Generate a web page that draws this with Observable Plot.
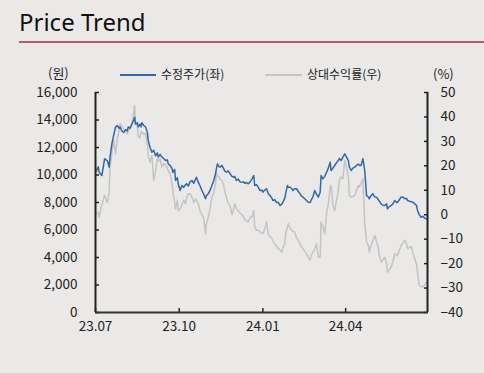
<!DOCTYPE html>
<html><head><meta charset="utf-8">
<script src="https://cdn.jsdelivr.net/npm/d3@7"></script>
<script src="https://cdn.jsdelivr.net/npm/@observablehq/plot@0.6"></script>
<style>
html,body{margin:0;padding:0;background:#eae9e7;}
#wrap{position:relative;width:484px;height:373px;overflow:hidden;font-family:"Noto Sans CJK KR","Noto Sans",sans-serif;color:#222;}
.t{position:absolute;white-space:nowrap;}
#wrap svg{position:absolute;left:0;top:0;}
</style></head><body><div id="wrap"></div>
<script>
const title = "Price Trend";
const legendPrice = "수정주가(좌)";
const legendRel = "상대수익률(우)";
const unitLeft = "(원)";
const unitRight = "(%)";

const dates = [
"2023-07-02","2023-07-04","2023-07-05","2023-07-08","2023-07-11","2023-07-14","2023-07-16","2023-07-17","2023-07-19","2023-07-21",
"2023-07-23","2023-07-25","2023-07-27","2023-07-28","2023-07-30","2023-08-01","2023-08-03","2023-08-05","2023-08-06","2023-08-08",
"2023-08-10","2023-08-12","2023-08-13","2023-08-14","2023-08-16","2023-08-17","2023-08-19","2023-08-20","2023-08-21","2023-08-23",
"2023-08-25","2023-08-27","2023-08-28","2023-08-30","2023-09-01","2023-09-03","2023-09-05","2023-09-07","2023-09-08","2023-09-10",
"2023-09-12","2023-09-14","2023-09-16","2023-09-18","2023-09-19","2023-09-21","2023-09-23","2023-09-24","2023-09-26","2023-09-27",
"2023-09-29","2023-09-30","2023-10-02","2023-10-04","2023-10-06","2023-10-08","2023-10-09","2023-10-11","2023-10-13","2023-10-15",
"2023-10-17","2023-10-19","2023-10-20","2023-10-22","2023-10-24","2023-10-26","2023-10-28","2023-10-30","2023-10-31","2023-11-02",
"2023-11-04","2023-11-06","2023-11-08","2023-11-10","2023-11-11","2023-11-12","2023-11-14","2023-11-15","2023-11-17","2023-11-19",
"2023-11-20","2023-11-22","2023-11-24","2023-11-26","2023-11-28","2023-11-30","2023-12-01","2023-12-03","2023-12-05","2023-12-07",
"2023-12-09","2023-12-11","2023-12-12","2023-12-14","2023-12-16","2023-12-18","2023-12-20","2023-12-22","2023-12-23","2023-12-25",
"2023-12-27","2023-12-29","2023-12-31","2024-01-01","2024-01-03","2024-01-05","2024-01-07","2024-01-09","2024-01-11","2024-01-12",
"2024-01-14","2024-01-16","2024-01-18","2024-01-20","2024-01-22","2024-01-23","2024-01-25","2024-01-26","2024-01-28","2024-01-29",
"2024-01-31","2024-02-02","2024-02-03","2024-02-05","2024-02-07","2024-02-09","2024-02-11","2024-02-12","2024-02-14","2024-02-16",
"2024-02-18","2024-02-20","2024-02-22","2024-02-23","2024-02-25","2024-02-27","2024-02-29","2024-03-02","2024-03-04","2024-03-05",
"2024-03-07","2024-03-09","2024-03-11","2024-03-13","2024-03-15","2024-03-16","2024-03-18","2024-03-20","2024-03-22","2024-03-24",
"2024-03-25","2024-03-27","2024-03-29","2024-03-31","2024-04-02","2024-04-04","2024-04-05","2024-04-07","2024-04-09","2024-04-11",
"2024-04-13","2024-04-15","2024-04-16","2024-04-18","2024-04-20","2024-04-22","2024-04-24","2024-04-26","2024-04-27","2024-04-29",
"2024-05-01","2024-05-03","2024-05-05","2024-05-07","2024-05-08","2024-05-10","2024-05-12","2024-05-14","2024-05-16","2024-05-17",
"2024-05-19","2024-05-21","2024-05-23","2024-05-25","2024-05-27","2024-05-28","2024-05-30","2024-06-01","2024-06-03","2024-06-05",
"2024-06-07","2024-06-08","2024-06-10","2024-06-12","2024-06-14","2024-06-16","2024-06-18","2024-06-19","2024-06-21","2024-06-23",
"2024-06-25","2024-06-27","2024-06-29"];

const price = [
10300,10600,10200,9960,11180,11050,10570,11300,12270,12900,
13480,13600,13400,13480,13200,13100,13300,13200,13500,13400,
13700,14000,14200,13700,13800,13500,13700,13500,13800,13600,
13500,13100,12500,12000,11660,11800,11400,11600,11300,11500,
11300,11200,11050,11100,10800,10700,10500,10200,10400,9600,
9800,9360,8870,9240,9100,9300,9360,9200,9500,9600,
9400,9700,9840,9480,9200,8870,8600,8270,8500,8630,
8900,9240,9600,10090,10500,10800,10600,10570,10700,10450,
10300,10200,10300,10090,9900,9840,9900,9600,9700,9500,
9480,9500,9400,9450,9360,9500,9720,9960,9240,9300,
9100,8870,8900,8750,8900,9000,8630,8500,8300,8150,
8200,8020,8000,7780,7900,8020,8300,8630,9240,9100,
9110,9000,8870,9000,9000,8800,8630,8500,8400,8270,
8150,8020,8000,8150,8400,8870,8600,8390,8750,9960,
9720,9900,10200,10500,10930,10330,10500,10690,10900,11050,
11200,11050,11300,11540,11300,11050,10600,10330,10500,10570,
10700,10800,10700,10700,11180,10330,8500,8400,8270,8500,
8630,8400,8390,8200,8100,7900,7800,7780,7900,7540,
7700,7780,7900,8150,8000,8020,8200,8390,8400,8270,
8300,8150,8100,8050,8020,7900,7780,7420,7100,6930,
7000,6850,6810];

const relReturn = [
0.4,1.0,-1.0,4,8,5,9,19.5,25,30.4,
24.9,31,34.5,37.2,36,35.2,34,33.1,34.5,35,
37.2,42,44.7,38,36,32,31.5,33.8,34,33,
33.3,29,24,21.5,24.2,14,18.1,22.9,22,22.9,
19.5,21,20.1,19,18,16.7,13,9.9,5,2.4,
5.8,1.5,2.4,4,6,4.5,6.5,8.6,8.6,7,
5,6.5,6,4.5,1.5,0,-1.5,-7.8,-3.7,-1,
2.4,7.2,9,13,16.7,16,15.4,14.5,14,12,
9.9,7,4.5,3.8,0,2.5,4.5,2.4,1.7,0.5,
0,-1,-2,-2.5,-3,-1,-1,1.7,-5.1,-6.4,
-6.4,-7.1,-7.5,-7.8,-6,-3,-7.8,-9,-9.8,-11,
-11.9,-13,-13.9,-14.5,-15.3,-13.5,-11.9,-8,-5,-3.7,
-5.5,-6.4,-6.8,-7.1,-9.5,-10.5,-11.9,-13,-13.9,-15,
-16,-17.5,-18.7,-16.7,-15.5,-13.9,-11.9,-17.4,-17.4,-3,
-5,-7.8,0.4,4.5,11.3,12,3.8,1.7,6,9.9,
14,15.5,14.7,22.2,19.5,15.4,7.9,7.2,7.5,7.9,
10,12,11.3,13,14.7,-3.7,-11.2,-12.6,-15.3,-12.5,
-10.5,-8.5,-11,-13.9,-16.5,-19.4,-18.5,-17.4,-20,-23.5,
-22.5,-21.5,-19,-16,-16.5,-16.7,-14.5,-12.6,-11.5,-10.5,
-12,-13.9,-13.5,-13,-15.5,-18,-20.5,-23.5,-29,-29.3,
-29.6,-28.5,-27.6];

const leftTicks = [0,2000,4000,6000,8000,10000,12000,14000,16000];
const rightTicks = [-40,-30,-20,-10,0,10,20,30,40,50];
const xTicks = ["2023-07-01","2023-10-01","2024-01-01","2024-04-01"];
const xDomain = ["2023-07-01","2024-06-30"];

const parse = d3.utcParse("%Y-%m-%d");
const leftDomain = [0, 16000];
const rightDomain = [-40, 50];
const toLeft = r => leftDomain[0] + (r - rightDomain[0]) / (rightDomain[1] - rightDomain[0]) * (leftDomain[1] - leftDomain[0]);
const fromLeft = v => rightDomain[0] + (v - leftDomain[0]) / (leftDomain[1] - leftDomain[0]) * (rightDomain[1] - rightDomain[0]);

const rows = dates.map((d, i) => ({date: parse(d), price: price[i], rel: relReturn[i]}));
const xd = xDomain.map(parse);
const fmtInt = d3.format("d");

const chart = Plot.plot({
  width: 484, height: 373,
  marginLeft: 95, marginRight: 57, marginTop: 92, marginBottom: 61,
  style: {background: "transparent", fontFamily: "'Noto Sans CJK KR','Noto Sans',sans-serif", fontSize: "13.5px", color: "#222", overflow: "visible"},
  x: {type: "utc", domain: xd},
  y: {domain: leftDomain},
  marks: [
    Plot.lineY(rows, {x: "date", y: d => toLeft(d.rel), stroke: "#c4c4c4", strokeWidth: 1.5}),
    Plot.lineY(rows, {x: "date", y: "price", stroke: "#2f68a6", strokeWidth: 1.5}),
    Plot.axisY(leftTicks, {anchor: "left", tickSize: -4, tickPadding: 22, tickFormat: d3.format(","), label: null, strokeWidth: 1.5}),
    Plot.axisY(rightTicks.map(toLeft), {anchor: "right", tickSize: -4, tickPadding: 17, tickFormat: v => fmtInt(Math.round(fromLeft(v))), label: null, strokeWidth: 1.5}),
    Plot.axisX(xTicks.map(parse), {anchor: "bottom", tickSize: -4, tickPadding: 13, tickFormat: d3.utcFormat("%y.%m"), label: null, strokeWidth: 1.5}),
    Plot.ruleX([xd[0]], {stroke: "#222", strokeWidth: 2}),
    Plot.ruleX([xd[1]], {stroke: "#222", strokeWidth: 2}),
    Plot.ruleY([leftDomain[0]], {stroke: "#333", strokeWidth: 2})
  ]
});

const wrap = document.getElementById("wrap");
wrap.appendChild(chart);

function addText(txt, left, top, size, extra) {
  const d = document.createElement("div");
  d.className = "t";
  d.textContent = txt;
  d.style.left = left + "px";
  d.style.top = top + "px";
  d.style.fontSize = size + "px";
  d.style.lineHeight = size + "px";
  if (extra) Object.assign(d.style, extra);
  wrap.appendChild(d);
  return d;
}
function addBox(left, top, w, h, color) {
  const d = document.createElement("div");
  d.style.position = "absolute";
  d.style.left = left + "px"; d.style.top = top + "px";
  d.style.width = w + "px"; d.style.height = h + "px";
  d.style.background = color;
  wrap.appendChild(d);
}

addText(title, 19, 10, 24, {fontFamily: "'Noto Sans',sans-serif", color: "#111"});
addBox(19, 41, 465, 2, "#b65b72");
addBox(120, 74, 36, 1.5, "#2f68a6");
addText(legendPrice, 161, 68, 12);
addBox(265, 74, 37, 1.5, "#c4c4c4");
addText(legendRel, 307, 68, 12);
addText(unitLeft, 48, 66, 13);
addText(unitRight, 433, 67, 13);
</script>
</body></html>
